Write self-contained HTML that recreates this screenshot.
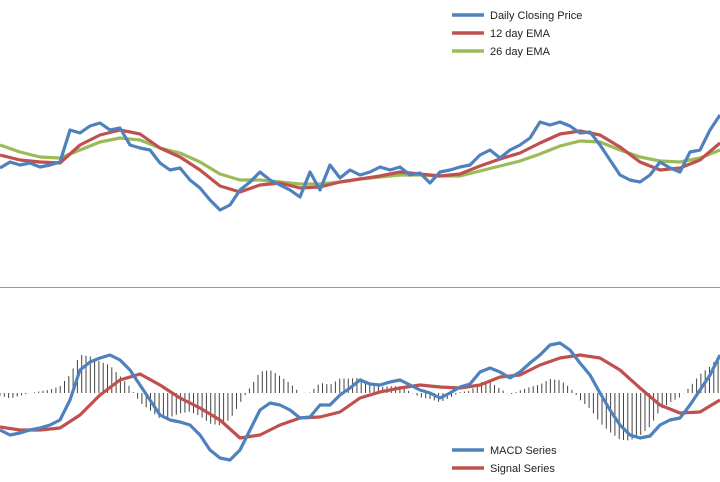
<!DOCTYPE html>
<html><head><meta charset="utf-8"><style>
body{margin:0;background:#fff;}
svg{display:block;font-family:"Liberation Sans",sans-serif;}
</style></head><body>
<svg id="c" width="720" height="482"></svg>
<script>
const priceX10 = [92,98,95,97,93,95,98,130,127,134,137,130,132,115,112,110,97,90,92,80,72,60,50,55,70,78,88,80,75,70,63,88,70,95,82,90,85,88,93,90,93,85,87,77,88,90,93,95,105,110,102,110,115,122,138,135,138,134,127,128,115,100,85,80,78,85,98,92,88,108,110,130,145];
const ema12X20 = [105,100,98,97,115,125,130,126,112,103,90,74,68,75,77,72,73,78,81,84,88,86,84,86,94,101,107,117,126,129,125,113,98,90,92,100,117];
const ema26X20 = [115,108,103,102,110,118,122,120,112,107,98,86,80,80,78,76,76,78,81,83,85,85,84,84,89,94,99,106,114,119,118,110,103,99,98,102,110];
const macdX10 = [-37,-42,-40,-37,-35,-32,-27,-7,23,31,35,38,33,23,8,-7,-22,-27,-29,-32,-42,-57,-65,-67,-57,-37,-17,-10,-12,-17,-25,-24,-12,-12,-2,5,13,9,8,11,13,8,3,0,-5,0,6,9,21,25,21,15,21,30,38,48,50,43,30,18,0,-17,-32,-42,-45,-43,-32,-27,-25,-12,3,18,38];
const signalX20 = [-34,-37,-37,-35,-22,-2,13,19,8,-5,-15,-27,-45,-42,-32,-25,-24,-19,-5,1,5,8,6,5,8,16,18,28,35,38,35,23,5,-12,-20,-19,-7];
const legendTop = ["Daily Closing Price","12 day EMA","26 day EMA"];
const legendBottom = ["MACD Series","Signal Series"];

const NS="http://www.w3.org/2000/svg";
const svg=document.getElementById('c');
const W=720;
function xs(i,n){return i*W/(n-1);}
function yTop(v){return 260-v;}
function yBot(v){return 393-v;}
function mk(t,a){const e=document.createElementNS(NS,t);for(const k in a)e.setAttribute(k,a[k]);svg.appendChild(e);return e;}
function interp(arr,x){const n=arr.length;const f=x/W*(n-1);const i=Math.min(Math.floor(f),n-2);const t=f-i;return arr[i]*(1-t)+arr[i+1]*t;}
function line(arr,yf,color,name){
  const d=arr.map((v,i)=>(i?'L':'M')+xs(i,arr.length).toFixed(1)+','+yf(v).toFixed(1)).join('');
  const p=mk('path',{d:d,fill:'none',stroke:color,'stroke-width':3.2,'stroke-linejoin':'round'});
  
  
}
const sep=mk('line',{x1:0,x2:720,y1:287.5,y2:287.5,stroke:'#9a9a9a','stroke-width':1});


for(let x=0;x<=720;x+=4.3){
  const h=0.85*(interp(macdX10,x)-interp(signalX20,x));
  const b=mk('line',{x1:x.toFixed(1),x2:x.toFixed(1),y1:yBot(0),y2:yBot(h).toFixed(1),stroke:'#444','stroke-width':1});
  
  
}
line(ema26X20,yTop,'#9bbb59','ema-26-line');
line(ema12X20,yTop,'#c0504d','ema-12-line');
line(priceX10,yTop,'#4f81bd','price-line');
line(signalX20,yBot,'#c0504d','signal-line');
line(macdX10,yBot,'#4f81bd','macd-line');
function legend(labels,colors,y0,prefix){
  labels.forEach((l,i)=>{
    const y=y0+i*18;
    const s=mk('line',{x1:452,x2:484,y1:y,y2:y,stroke:colors[i],'stroke-width':3.5});
    
    
    const t=mk('text',{x:490,y:y+4,'font-size':11,fill:'#222'});
    t.textContent=l;
    
    
  });
}
legend(legendTop,['#4f81bd','#c0504d','#9bbb59'],15,'top-legend');
legend(legendBottom,['#4f81bd','#c0504d'],450,'bottom-legend');
</script>
</body></html>
